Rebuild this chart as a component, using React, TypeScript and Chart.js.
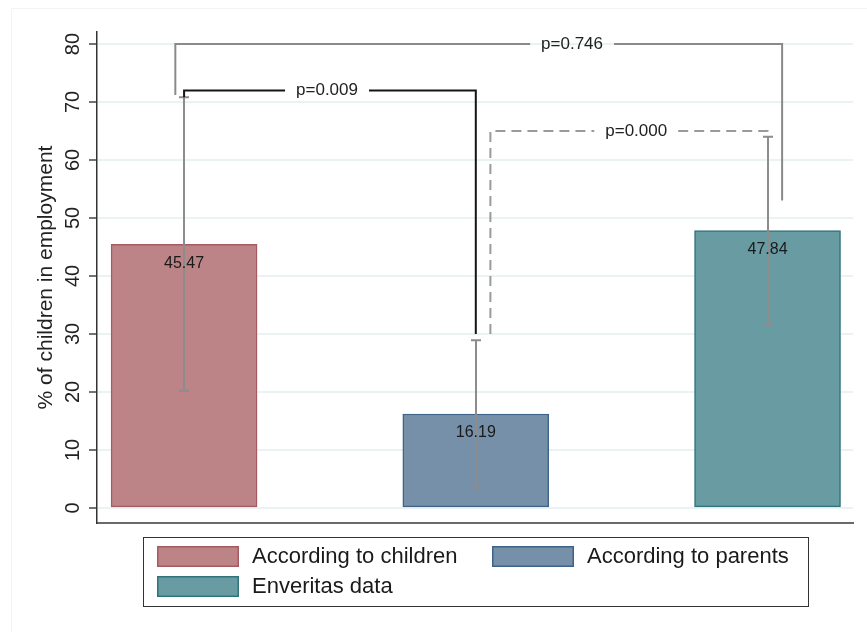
import React, { useEffect, useRef } from "react";
import { Chart, registerables } from "chart.js";

Chart.register(...registerables);

// ---- data ----
const categories = ["According to children", "According to parents", "Enveritas data"];
const xPositions = [1, 2, 3];
const values = [45.47, 16.19, 47.84];
const ciLow = [20.2, 3.5, 31.6];
const ciHigh = [70.8, 28.9, 64.0];
const yTicks = [0, 10, 20, 30, 40, 50, 60, 70, 80];
const yTitle = "% of children in employment";

// significance brackets (data units)
const bracketLabels = ["p=0.746", "p=0.009", "p=0.000"];
const bracketLeftX = [0.97, 1.0, 2.05];
const bracketRightX = [3.05, 2.0, 3.0];
const bracketTopY = [80, 72, 65];
const bracketLeftEndY = [71.2, 70.8, 30];
const bracketRightEndY = [53, 30, 64];
const bracketLabelX = [2.33, 1.49, 2.55];

// ---- styles ----
const fills = ["#bc8487", "#7790aa", "#699ba3"];
const borders = ["#a65a62", "#3e6386", "#2e747a"];
const bracketColors = ["#8a8a8a", "#151515", "#9a9a9a"];
const bracketDashes: number[][] = [[], [], [10, 6]];
const FONT = "Arial, 'Liberation Sans', sans-serif";

const overlayPlugin = {
  id: "overlay",
  beforeDraw(chart: any) {
    const { ctx } = chart;
    ctx.save();
    ctx.strokeStyle = "#f3f3f3";
    ctx.lineWidth = 1;
    ctx.beginPath();
    ctx.moveTo(11.5, 632);
    ctx.lineTo(11.5, 8.5);
    ctx.lineTo(867, 8.5);
    ctx.stroke();
    ctx.restore();
  },
  afterDatasetsDraw(chart: any) {
    const { ctx } = chart;
    const x = chart.scales.x;
    const y = chart.scales.y;
    ctx.save();
    // error bars
    ctx.strokeStyle = "#8c8c8c";
    ctx.lineWidth = 2;
    values.forEach((_, i) => {
      const px = Math.round(x.getPixelForValue(xPositions[i]));
      const yl = y.getPixelForValue(ciLow[i]);
      const yh = y.getPixelForValue(ciHigh[i]);
      ctx.beginPath();
      ctx.moveTo(px, yl);
      ctx.lineTo(px, yh);
      ctx.moveTo(px - 5, yl);
      ctx.lineTo(px + 5, yl);
      ctx.moveTo(px - 5, yh);
      ctx.lineTo(px + 5, yh);
      ctx.stroke();
    });
    // value labels
    ctx.font = `16px ${FONT}`;
    ctx.fillStyle = "#1a1a1a";
    ctx.textAlign = "center";
    ctx.textBaseline = "middle";
    values.forEach((v, i) => {
      ctx.fillText(v.toFixed(2), x.getPixelForValue(xPositions[i]), y.getPixelForValue(v) + 19);
    });
    // brackets
    bracketLabels.forEach((label, i) => {
      const xl = x.getPixelForValue(bracketLeftX[i]);
      const xr = x.getPixelForValue(bracketRightX[i]);
      const yt = y.getPixelForValue(bracketTopY[i]);
      const yle = y.getPixelForValue(bracketLeftEndY[i]);
      const yre = y.getPixelForValue(bracketRightEndY[i]);
      const lx = x.getPixelForValue(bracketLabelX[i]);
      ctx.font = `17px ${FONT}`;
      const tw = ctx.measureText(label).width;
      const gapL = lx - tw / 2 - 11;
      const gapR = lx + tw / 2 + 11;
      ctx.strokeStyle = bracketColors[i];
      ctx.lineWidth = 2;
      ctx.setLineDash(bracketDashes[i]);
      ctx.lineJoin = "miter";
      ctx.beginPath();
      ctx.moveTo(xl, yle);
      ctx.lineTo(xl, yt);
      ctx.lineTo(gapL, yt);
      ctx.stroke();
      ctx.beginPath();
      ctx.moveTo(gapR, yt);
      ctx.lineTo(xr, yt);
      ctx.lineTo(xr, yre);
      ctx.stroke();
      ctx.setLineDash([]);
      ctx.fillStyle = "#222";
      ctx.textAlign = "center";
      ctx.textBaseline = "middle";
      ctx.fillText(label, lx, yt);
    });
    ctx.restore();
  },
  afterDraw(chart: any) {
    // legend box
    const { ctx } = chart;
    const datasets = chart.data.datasets;
    ctx.save();
    ctx.strokeStyle = "#333";
    ctx.lineWidth = 1;
    ctx.strokeRect(143.5, 537.5, 665, 69);
    const colX = [157, 492];
    const rowY = [546, 576];
    ctx.font = `22px ${FONT}`;
    ctx.textAlign = "left";
    ctx.textBaseline = "middle";
    datasets.forEach((ds: any, i: number) => {
      const sx = colX[i % 2];
      const sy = rowY[Math.floor(i / 2)];
      ctx.fillStyle = ds.backgroundColor;
      ctx.fillRect(sx, sy, 82, 21);
      ctx.strokeStyle = ds.borderColor;
      ctx.lineWidth = 1.5;
      ctx.strokeRect(sx + 0.75, sy + 0.75, 80.5, 19.5);
      ctx.fillStyle = "#1a1a1a";
      ctx.fillText(ds.label, sx + 95, sy + 11);
    });
    ctx.restore();
  },
};

export default function App() {
  const ref = useRef<HTMLCanvasElement | null>(null);
  useEffect(() => {
    document.body.style.margin = "0";
    const canvas = ref.current;
    if (!canvas) return;
    const chart = new Chart(canvas, {
      type: "bar",
      data: {
        datasets: categories.map((c, i) => ({
          label: c,
          data: [{ x: xPositions[i], y: values[i] }],
          backgroundColor: fills[i],
          borderColor: borders[i],
          borderWidth: 1.5,
          borderSkipped: false,
          barThickness: 146,
          grouped: false,
        })) as any,
      },
      options: {
        animation: false,
        responsive: false,
        devicePixelRatio: 1,
        layout: { padding: { left: 0, top: 32, right: 14, bottom: 109 } },
        plugins: { legend: { display: false }, tooltip: { enabled: false } },
        scales: {
          x: {
            type: "linear",
            min: 0.7015,
            max: 3.293,
            offset: false,
            ticks: { display: false },
            grid: { display: false },
            border: { display: true, color: "#6a6a6a", width: 2 },
            afterFit: (s: any) => {
              s.height = 0;
            },
          },
          y: {
            type: "linear",
            min: -2.6,
            max: 82.07,
            afterBuildTicks: (s: any) => {
              s.ticks = yTicks.map((v) => ({ value: v }));
            },
            afterFit: (s: any) => {
              s.width = 97;
            },
            ticks: {
              minRotation: 90,
              maxRotation: 90,
              crossAlign: "center",
              padding: 4,
              color: "#222",
              font: { size: 20, family: FONT },
            },
            grid: {
              color: "#eaf2f4",
              lineWidth: 2,
              tickColor: "#444",
              tickLength: 8,
              tickWidth: 1.5,
            },
            border: { display: true, color: "#333", width: 1.5 },
            title: {
              display: true,
              text: yTitle,
              color: "#222",
              font: { size: 21, family: FONT },
              padding: { top: 34, bottom: 0 },
            },
          },
        },
      } as any,
      plugins: [overlayPlugin],
    });
    return () => chart.destroy();
  }, []);
  return (
    <div style={{ width: 867, height: 632, background: "#fff" }}>
      <canvas ref={ref} width={867} height={632} style={{ display: "block" }} />
    </div>
  );
}
